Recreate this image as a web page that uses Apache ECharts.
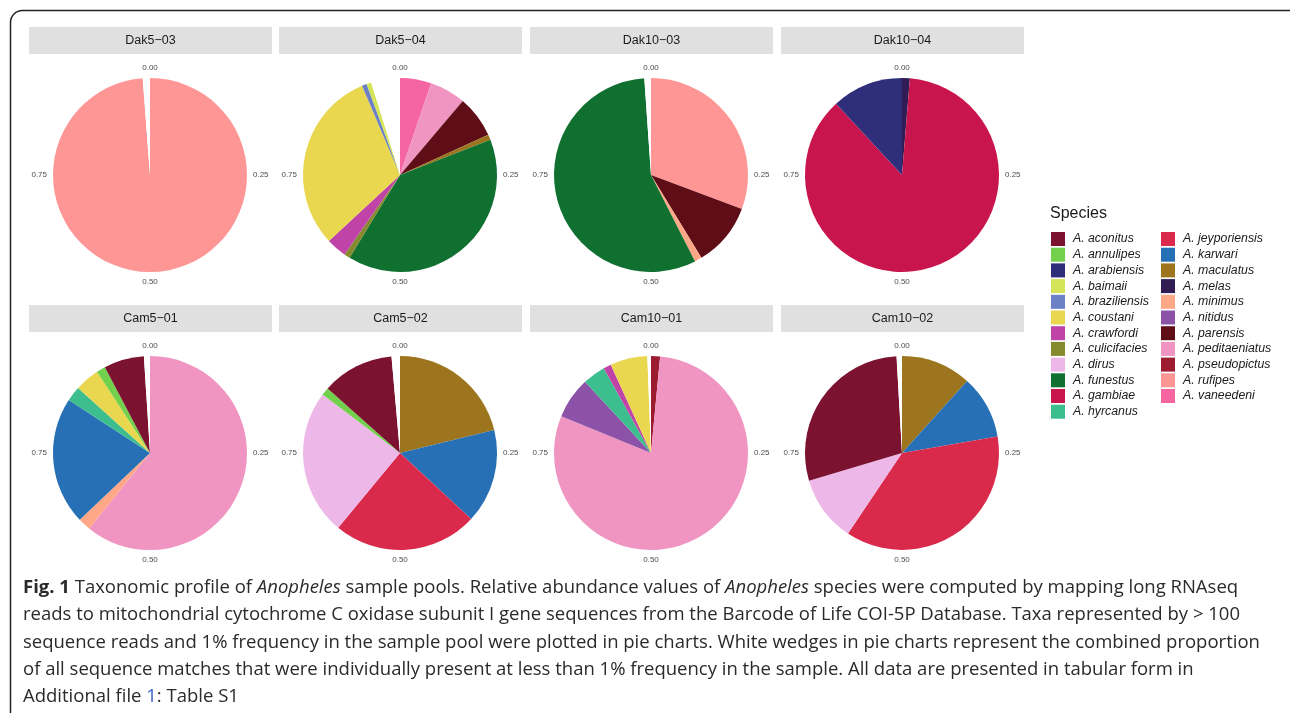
<!DOCTYPE html>
<html>
<head>
<meta charset="utf-8">
<script src="https://cdn.jsdelivr.net/npm/echarts@6/dist/echarts.min.js"></script>
<style>
html,body{margin:0;padding:0;background:#fff;}
#chart{width:1290px;height:713px;}
</style>
</head>
<body>
<div id="chart"></div>
<script>
// ---------- data ----------
const species = ['A. aconitus','A. annulipes','A. arabiensis','A. baimaii','A. braziliensis','A. coustani','A. crawfordi','A. culicifacies','A. dirus','A. funestus','A. gambiae','A. hyrcanus','A. jeyporiensis','A. karwari','A. maculatus','A. melas','A. minimus','A. nitidus','A. parensis','A. peditaeniatus','A. pseudopictus','A. rufipes','A. vaneedeni'];
const speciesColors = ['#7B1230','#72D04C','#2E2E7A','#D4E557','#6C80C6','#E8D74F','#C043A8','#858B2D','#EDB8E8','#0F7030','#C9154E','#3DBE8E','#DA2A4B','#2870B5','#9C751E','#311C55','#FFA888','#8C52A8','#5F0E18','#F095C2','#9C1B31','#FF9696','#F565A1'];
const otherName = '<1% combined';
const panelNames = ['Dak5\u221203','Dak5\u221204','Dak10\u221203','Dak10\u221204','Cam5\u221201','Cam5\u221202','Cam10\u221201','Cam10\u221202'];
const angleTicks = [0, 0.25, 0.5, 0.75];

// proportions, clockwise from 0.00
const dak5_03 = [['A. rufipes',0.988],[otherName,0.012]];
const dak5_04 = [['A. vaneedeni',0.052],['A. peditaeniatus',0.060],['A. parensis',0.070],['A. maculatus',0.009],['A. funestus',0.396],['A. culicifacies',0.010],['A. crawfordi',0.034],['A. coustani',0.305],['A. braziliensis',0.008],['A. baimaii',0.008],[otherName,0.048]];
const dak10_03 = [['A. rufipes',0.307],['A. parensis',0.106],['A. minimus',0.012],['A. funestus',0.564],[otherName,0.011]];
const dak10_04 = [['A. melas',0.013],['A. gambiae',0.868],['A. arabiensis',0.119]];
const cam5_01 = [['A. peditaeniatus',0.608],['A. minimus',0.021],['A. karwari',0.213],['A. hyrcanus',0.025],['A. coustani',0.041],['A. annulipes',0.015],['A. aconitus',0.067],[otherName,0.010]];
const cam5_02 = [['A. maculatus',0.212],['A. karwari',0.157],['A. jeyporiensis',0.241],['A. dirus',0.243],['A. annulipes',0.013],['A. aconitus',0.120],[otherName,0.014]];
const cam10_01 = [['A. pseudopictus',0.015],['A. peditaeniatus',0.797],['A. nitidus',0.069],['A. hyrcanus',0.038],['A. crawfordi',0.013],['A. coustani',0.062],[otherName,0.006]];
const cam10_02 = [['A. maculatus',0.117],['A. karwari',0.106],['A. jeyporiensis',0.371],['A. dirus',0.110],['A. aconitus',0.287],[otherName,0.009]];
const panelData = [dak5_03,dak5_04,dak10_03,dak10_04,cam5_01,cam5_02,cam10_01,cam10_02];

// ---------- layout ----------
const colX = [150, 400, 651, 902];
const rowY = [175, 453];
const R = 97;
const stripX = [29, 279, 530, 781];
const stripY = [27, 305];
const stripW = 243, stripH = 27;

const colorOf = {};
species.forEach((s,i)=>colorOf[s]=speciesColors[i]);
colorOf[otherName] = '#ffffff';

const polar = [], angleAxis = [], radiusAxis = [], series = [], graphic = [];

// border
graphic.push({type:'rect', shape:{x:10.5,y:10.5,width:1300,height:740,r:12}, style:{fill:'none',stroke:'#222',lineWidth:1.5}, z:0});

panelData.forEach((d, i) => {
  const c = i % 4, r = Math.floor(i / 4);
  const cx = colX[c], cy = rowY[r];
  polar.push({center:[cx, cy], radius: R});
  angleAxis.push({
    polarIndex:i, type:'value', min:0, max:1, interval:0.25, startAngle:90, clockwise:true,
    axisLine:{show:false}, axisTick:{show:false}, splitLine:{show:false},
    axisLabel:{show:true, margin:6, fontSize:8, color:'#4d4d4d', fontFamily:'Liberation Sans',
      formatter:(v)=> angleTicks.some(t=>Math.abs(t-v)<1e-9) ? v.toFixed(2) : ''}
  });
  radiusAxis.push({polarIndex:i, show:false, type:'value', min:0, max:1});
  series.push({
    type:'pie', name: panelNames[i], center:[cx, cy], radius:[0, R],
    startAngle:90, clockwise:true, silent:true, animation:false,
    label:{show:false}, labelLine:{show:false},
    emphasis:{disabled:true, scale:false},
    itemStyle:{borderWidth:0},
    data: d.map(([n,v]) => ({name:n, value:v, itemStyle:{color:colorOf[n]}}))
  });
  graphic.push({type:'group', children:[
    {type:'rect', shape:{x:stripX[c], y:stripY[r], width:stripW, height:stripH}, style:{fill:'#E0E0E0'}},
    {type:'text', x:stripX[c]+stripW/2, y:stripY[r]+stripH/2, style:{text:panelNames[i], fill:'#1a1a1a', font:'12.5px "Liberation Sans"', align:'center', verticalAlign:'middle'}}
  ]});
});

// caption
const capLines = [
  '{b|Fig. 1} Taxonomic profile of {i|Anopheles} sample pools. Relative abundance values of {i|Anopheles} species were computed by mapping long RNAseq',
  'reads to mitochondrial cytochrome C oxidase subunit I gene sequences from the Barcode of Life COI-5P Database. Taxa represented by > 100',
  'sequence reads and 1% frequency in the sample pool were plotted in pie charts. White wedges in pie charts represent the combined proportion',
  'of all sequence matches that were individually present at less than 1% frequency in the sample. All data are presented in tabular form in',
  'Additional file {l|1}: Table S1'
];
const capFont = '"Open Sans"';
const capSize = 18.5;
capLines.forEach((t, k) => {
  graphic.push({type:'text', x:23, y:588 + k*27.2, style:{
    text:t, fill:'#2a2a2a', fontSize:capSize, fontFamily:capFont, verticalAlign:'middle', align:'left',
    rich:{
      b:{fontWeight:'bold', fontSize:capSize, fontFamily:capFont, fill:'#2a2a2a'},
      i:{fontStyle:'italic', fontSize:capSize, fontFamily:capFont, fill:'#2a2a2a'},
      l:{fontSize:capSize, fontFamily:capFont, fill:'#3b5fd0'}
    }
  }});
});

const legendItem = s => ({name:s, icon:'rect', itemStyle:{color:colorOf[s]}});
const legendCommon = {
  orient:'vertical', itemWidth:14, itemHeight:14, itemGap:1.7, padding:0, selectedMode:false,
  textStyle:{fontSize:12.3, fontStyle:'italic', color:'#1a1a1a', fontFamily:'Liberation Sans', padding:[0,0,0,3], lineHeight:14}
};

const option = {
  animation:false,
  title:[{text:'Species', left:1050, top:206, padding:0, textStyle:{fontSize:16, fontWeight:'normal', color:'#1a1a1a', fontFamily:'Liberation Sans'}}],
  legend:[
    Object.assign({left:1051, top:232, data:species.slice(0,12).map(legendItem)}, legendCommon),
    Object.assign({left:1161, top:232, data:species.slice(12).map(legendItem)}, legendCommon)
  ],
  polar, angleAxis, radiusAxis, series, graphic
};
const chart = echarts.init(document.getElementById('chart'), null, {renderer:'canvas'});
chart.setOption(option);
</script>
</body>
</html>
